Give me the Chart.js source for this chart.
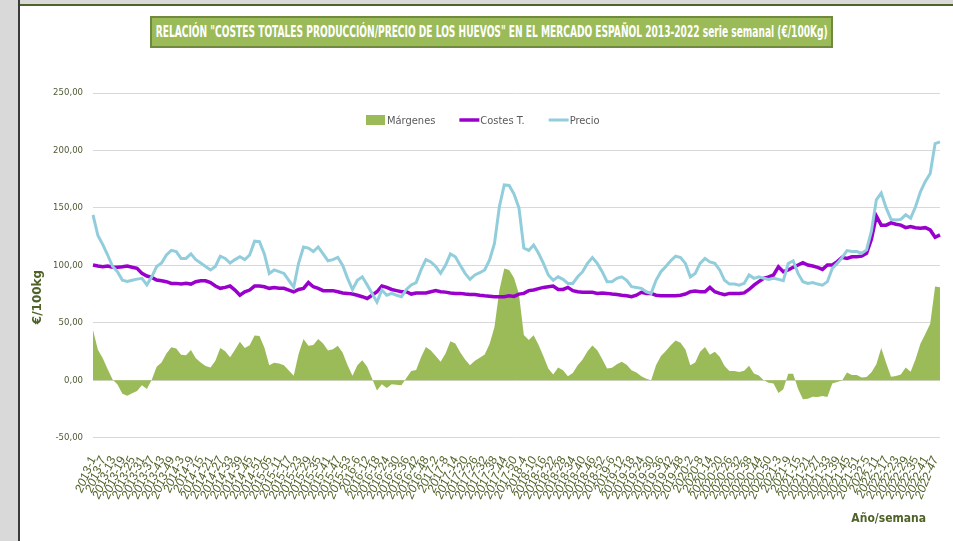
<!DOCTYPE html>
<html>
<head>
<meta charset="utf-8">
<script src="https://cdn.jsdelivr.net/npm/chart.js@4.4.0/dist/chart.umd.min.js"></script>
<style>
html,body{margin:0;padding:0;background:#fff;width:953px;height:541px;overflow:hidden;}
#wrap{position:relative;width:953px;height:541px;background:#fff;}
#c{position:absolute;left:0;top:0;}
.strip{position:absolute;}
#title{position:absolute;left:150px;top:16px;width:679px;height:28px;background:#9bbb59;border:2px solid #71893f;
  color:#fff;font:bold 15px 'Liberation Sans Narrow','DejaVu Sans Condensed',sans-serif;white-space:nowrap;overflow:hidden;
  display:flex;justify-content:center;align-items:center;}
#title span{display:inline-block;transform-origin:center center;}
</style>
</head>
<body>
<div id="wrap">
<canvas id="c" width="953" height="541"></canvas>
<div class="strip" style="left:0;top:0;width:18px;height:541px;background:#d9d9d9"></div>
<div class="strip" style="left:18px;top:0;width:2px;height:541px;background:#3a3a3a"></div>
<div class="strip" style="left:20px;top:0;width:933px;height:4px;background:#d9d9d9"></div>
<div class="strip" style="left:20px;top:4px;width:933px;height:2px;background:#4f6228"></div>
<div id="title"><span>RELACIÓN "COSTES TOTALES PRODUCCIÓN/PRECIO DE LOS HUEVOS" EN EL MERCADO ESPAÑOL 2013-2022 serie semanal (€/100Kg)</span></div>
</div>
<script>
// ---- DATA (sampled every 3 weeks, from 2013-1 to 2022-50) ----
const yearWeeks = [[2013,52],[2014,52],[2015,53],[2016,52],[2017,52],[2018,52],[2019,52],[2020,53],[2021,52],[2022,52]];
const sampleStep = 3;
const sampleCount = 174;

const tickLabels = [
"2013-1","2013-7","2013-13","2013-19","2013-25","2013-31","2013-37","2013-43","2013-49",
"2014-3","2014-9","2014-15","2014-21","2014-27","2014-33","2014-39","2014-45","2014-51",
"2015-05","2015-11","2015-17","2015-23","2015-29","2015-35","2015-41","2015-47","2015-53",
"2016-6","2016-12","2016-18","2016-24","2016-30","2016-36","2016-42","2016-48",
"2017-2","2017-8","2017-14","2017-20","2017-26","2017-32","2017-38","2017-44","2017-50",
"2018-4","2018-10","2018-16","2018-22","2018-28","2018-34","2018-40","2018-46","2018-52",
"2019-6","2019-12","2019-18","2019-24","2019-30","2019-36","2019-42","2019-48",
"2020-2","2020-8","2020-14","2020-20","2020-26","2020-32","2020-38","2020-44","2020-50",
"2021-3","2021-9","2021-15","2021-21","2021-27","2021-33","2021-39","2021-45","2021-51",
"2022-5","2022-11","2022-17","2022-23","2022-29","2022-35","2022-41","2022-47"
];

const precio = [
144,126,118,109,99,94.5,87,86,87,88,
88.7,83,90,99,102,109,113,112,106,106,
110,105,102,99,96,99,108,106,102,105,
107.5,105,109,121,120.6,110,93,96,94.5,93,
87,81,102,116,115,112,116,110,104,105,
107,100,88.7,79,87,90,83,75.6,68,78.5,
74,75.6,74,72.7,79,83,85,96,105,103,
99,93,100,110,107.5,100,93,87.8,91.6,93.6,
96,104.7,119,151,170,169.5,162,150,115,113,
117.7,110.5,101.7,91.6,87,90,87.8,84.3,84.3,90,
94.5,101.7,106.7,101.7,94.5,85.8,85.8,88.7,90,87,
81.4,80.8,80,77,75.6,87,94.5,99,104,108,
106.7,101.7,90,93,101.7,106,103,101.7,96,87,
83.7,83.7,82.8,84.3,91.6,88.7,90,88.7,87.8,88.7,
87.8,86.6,101.7,104,93,85.8,84.3,85,83.7,82.8,
85.8,97.4,101.7,106.7,112.8,112,112,110.5,113.4,130,
157,163,150,140,139.5,140,144,141,151,164,
173,180,206,207.5
];

const costes = [
100.3,99.4,98.8,99.4,98.3,98.3,98.8,99.4,98.3,97.4,
93,90.7,89.5,87.2,86.6,85.8,84.3,84.3,83.7,84.3,
83.7,85.8,86.6,86.6,85,82,80,80.8,82,78.5,
74,77,78.5,82,82,81.4,80,80.8,80,80,
78.5,77,79,80,85,81.4,80,78,78,78,
77,76,75.6,75,74,72.7,71.2,74,77,82,
80.8,79,78,77,77,75,76,76,76,77,
78,77,76.7,76,75.6,75.6,75,74.7,74.7,74,
73.5,73.2,72.7,72.7,72.7,73.5,73,75,75.6,78,
78.5,79.7,80.8,81.4,82,79,79,80.8,78,77,
76.5,76.5,76.5,75.6,76,75.6,75,74.7,74,73.5,
72.7,74,76.5,75.6,75.6,74,73.5,73.5,73.5,73.5,
74,75,77,77.6,77,77,80.8,77,75.6,74.5,
75.6,75.6,75.6,76,79,82.8,85.8,88.7,90,91.6,
98.8,94.5,96,98.3,100.3,102.3,100.3,99.4,98.3,96.5,
100.3,100.3,103.2,107,106,107.5,107.5,108,110.5,123,
143,135,135,137,135.8,135,132.8,133.7,132.8,132.3,
132.8,130.8,124.4,126.5
];

const margenes = [
43.7,26.6,19.2,9.6,0.7,-3.8,-11.8,-13.4,-11.3,-9.4,
-4.3,-7.7,0.5,11.8,15.4,23.2,28.7,27.7,22.3,21.7,
26.3,19.2,15.4,12.4,11,17,28,25.2,20,26.5,
33.5,28,30.5,39,38.6,28.6,13,15.2,14.5,13,
8.5,4,23,36,30,30.6,36,32,26,27,
30,24,13.1,4,13,17.3,11.8,1.6,-9,-3.5,
-6.8,-3.4,-4,-4.3,2,8,9,20,29,26,
21,16,23.3,34,31.9,24.4,18,13.1,16.9,19.6,
22.5,31.5,46.3,78.3,97.3,96,89,75,39.4,35,
39.2,30.8,20.9,10.2,5,11,8.8,3.5,6.3,13,
18,25.2,30.2,26.1,18.5,10.2,10.8,14,16,13.5,
8.7,6.8,3.5,1.4,0,13,21,25.5,30.5,34.5,
32.7,26.7,13,15.4,24.7,29,22.2,24.7,20.4,12.5,
8.1,8.1,7.2,8.3,12.6,5.9,4.2,0,-2.2,-2.9,
-11,-7.9,5.7,5.7,-7.3,-16.5,-16,-14.4,-14.6,-13.7,
-14.5,-2.9,-1.5,-0.3,6.8,4.5,4.5,2.5,2.9,7,
14,28,15,3,3.7,5,11.2,7.3,18.2,31.7,
40.2,49.2,81.6,81
];

const seriesNames = ["Márgenes","Costes T.","Precio"];
const yTicks = {min:-50, max:250, step:50};

// ---- category labels (year-week of each sample) ----
const weekLabels = [];
yearWeeks.forEach(([y,n]) => { for (let w = 1; w <= n; w++) weekLabels.push(y + "-" + w); });
const categories = [];
for (let i = 0; i < sampleCount; i++) categories.push(weekLabels[i * sampleStep]);

const NARROW = "'Liberation Sans Narrow','DejaVu Sans Condensed',sans-serif";

// fit title
(function(){
  const span = document.querySelector('#title span');
  const w = span.getBoundingClientRect().width;
  span.style.transform = 'scaleX(' + (672 / w) + ')';
})();

const decor = {
  id: 'decor',
  afterDraw(chart) {
    const ctx = chart.ctx;
    ctx.save();
    // legend
    ctx.font = '11px ' + NARROW;
    ctx.textBaseline = 'middle';
    ctx.textAlign = 'left';
    let x = 366; const y = 120;
    chart.data.datasets.forEach(ds => {
      if (ds.fill) {
        ctx.fillStyle = ds.backgroundColor;
        ctx.fillRect(x, y - 5, 19, 10);
      } else {
        ctx.strokeStyle = ds.borderColor;
        ctx.lineWidth = ds.borderWidth;
        ctx.beginPath(); ctx.moveTo(x, y); ctx.lineTo(x + 20, y); ctx.stroke();
      }
      ctx.fillStyle = '#595959';
      ctx.fillText(ds.label, x + 21, y + 1);
      x += 21 + ctx.measureText(ds.label).width + 24;
    });
    // y title
    ctx.save();
    ctx.translate(38, 297);
    ctx.rotate(-Math.PI / 2);
    ctx.font = "bold 12px 'DejaVu Sans',sans-serif";
    ctx.fillStyle = '#4f6228';
    ctx.textAlign = 'center';
    ctx.textBaseline = 'middle';
    ctx.fillText('€/100kg', 0, 0);
    ctx.restore();
    // x title
    ctx.font = 'bold 12px ' + NARROW;
    ctx.fillStyle = '#4f6228';
    ctx.textAlign = 'right';
    ctx.textBaseline = 'middle';
    ctx.fillText('Año/semana', 926, 519);
    ctx.restore();
  }
};

new Chart(document.getElementById('c'), {
  type: 'line',
  data: {
    labels: categories,
    datasets: [
      { label: seriesNames[0], data: margenes, fill: 'origin', backgroundColor: '#9bbb59',
        borderWidth: 0, borderColor: 'rgba(0,0,0,0)', pointRadius: 0, tension: 0, order: 3 },
      { label: seriesNames[1], data: costes, fill: false, borderColor: '#9900cc',
        borderWidth: 3.5, pointRadius: 0, tension: 0, order: 2 },
      { label: seriesNames[2], data: precio, fill: false, borderColor: '#92cddc',
        borderWidth: 3, pointRadius: 0, tension: 0, order: 1 }
    ]
  },
  options: {
    responsive: false,
    animation: false,
    devicePixelRatio: 1,
    events: [],
    layout: { padding: { left: 20, top: 93, right: 13, bottom: 0 } },
    plugins: { legend: { display: false }, tooltip: { enabled: false }, title: { display: false } },
    scales: {
      x: {
        type: 'category',
        offset: false,
        grid: { display: false, drawTicks: false },
        border: { display: false },
        ticks: {
          autoSkip: false, minRotation: 68, maxRotation: 68, padding: 17,
          color: '#4f6228',
          font: { family: "'Liberation Sans',sans-serif", size: 12, style: 'italic' },
          callback: (v, i) => (i % 2 === 0 ? tickLabels[i / 2] : '')
        },
        afterFit: s => { s.height = 103.3; s.paddingLeft = 0; s.paddingRight = 0; }
      },
      y: {
        min: yTicks.min, max: yTicks.max,
        grid: { color: '#d9d9d9', lineWidth: 1, drawTicks: false },
        border: { display: false },
        ticks: {
          stepSize: yTicks.step, padding: 10, color: '#4f5b35',
          font: { family: NARROW, size: 9.5 },
          callback: v => v.toFixed(2).replace('.', ',')
        },
        afterFit: s => { s.width = 73; }
      }
    }
  },
  plugins: [decor]
});
</script>
</body>
</html>
